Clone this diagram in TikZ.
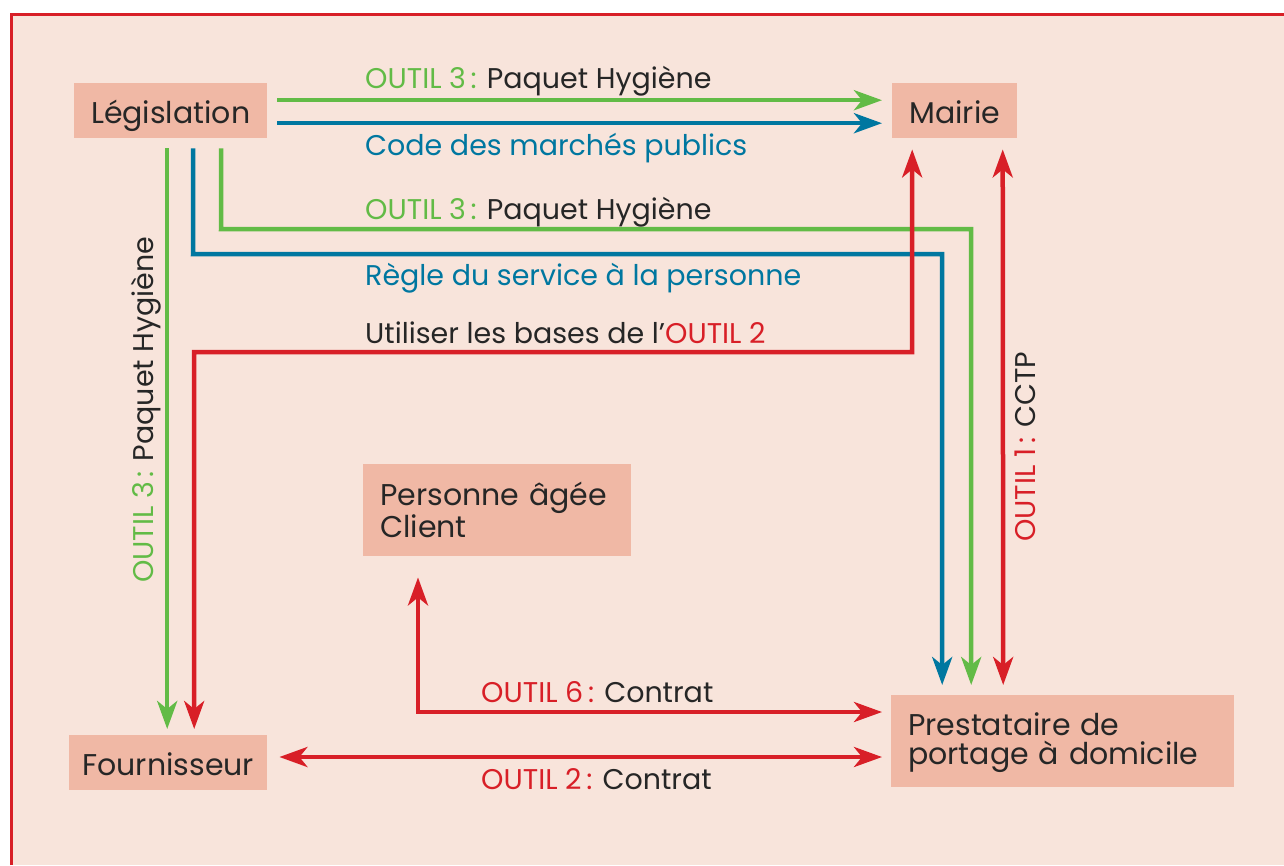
\documentclass[tikz,border=0pt]{standalone}
\usepackage{fontspec}
\setmainfont{Poppins}
\usetikzlibrary{arrows.meta}
\definecolor{bg}{HTML}{F8E4DB}
\definecolor{boxc}{HTML}{F0B8A5}
\definecolor{rd}{HTML}{D81F27}
\definecolor{gr}{HTML}{62BB46}
\definecolor{bl}{HTML}{0077A0}
\definecolor{tx}{HTML}{262626}
\newcommand\myfs{\fontsize{28.5}{29}\selectfont}
\newcommand\mynfs{\fontsize{30}{29.5}\selectfont}
\begin{document}
\begin{tikzpicture}[x=1pt,y=-1pt,
  box/.style={fill=boxc,inner sep=0pt,text=tx,font=\mynfs,anchor=north west},
  lbl/.style={inner sep=0pt,text=tx,font=\myfs,anchor=base west},
  con/.style={line width=4.5pt,line join=miter,-{Stealth[length=28pt,width=20pt,inset=8pt]}},
  dcon/.style={line width=4.5pt,line join=miter,{Stealth[length=28pt,width=20pt,inset=8pt]}-{Stealth[length=28pt,width=20pt,inset=8pt]}}]
\useasboundingbox (0,0) rectangle (1284,865);
\fill[white] (0,0) rectangle (1284,865);
\fill[bg] (11,14) rectangle (1284,865);
\draw[rd,line width=3pt] (11,865) -- (11,14) -- (1284,14);

% nodes
\node[box,minimum width=193pt,text height=40pt,text depth=15pt] (leg) at (74,83) {Législation};
\node[box,minimum width=125pt,text height=40pt,text depth=15pt] (mai) at (892,83) {Mairie};
\node[box,minimum width=268pt,text width=234pt,align=left,text height=41pt,text depth=51pt] (per) at (363,464) {Personne âgée\\Client};
\node[box,minimum width=198pt,text height=40pt,text depth=15pt] (fou) at (69,735) {Fournisseur};
\node[box,minimum width=343pt,text width=309pt,align=left,text height=40pt,text depth=52pt] (pre) at (891,695) {Prestataire de\\portage à domicile};

% coordinates for bends
\coordinate (g1) at (221,229); \coordinate (g2) at (971,229);
\coordinate (b1) at (193,254); \coordinate (b2) at (942,254);
\coordinate (r1) at (194,352); \coordinate (r2) at (912,352);
\coordinate (p1) at (418,712);

% Législation -> Mairie
\draw[con,gr] ([xshift=10pt,yshift=10.5pt]leg.east) -- ([xshift=-10pt,yshift=10.5pt]mai.west);
\draw[con,bl] ([xshift=10pt,yshift=-12.5pt]leg.east) -- ([xshift=-10pt,yshift=-12.5pt]mai.west);
% Législation -> Fournisseur
\draw[con,gr] ([xshift=-3.5pt,yshift=-10pt]leg.south) -- ([xshift=-1pt,yshift=6pt]fou.north);
% Législation -> Prestataire
\draw[con,gr] ([xshift=50.5pt,yshift=-10pt]leg.south) -- (g1) -- (g2) -- ([xshift=-91.5pt,yshift=10pt]pre.north);
\draw[con,bl] ([xshift=22.5pt,yshift=-10pt]leg.south) -- (b1) -- (b2) -- ([xshift=-120.5pt,yshift=10pt]pre.north);
% Fournisseur <-> Mairie
\draw[dcon,rd] ([xshift=26pt,yshift=6pt]fou.north) -- (r1) -- (r2) -- ([xshift=-42.5pt,yshift=-11pt]mai.south);
% Mairie <-> Prestataire
\draw[dcon,rd] ([xshift=48pt,yshift=-11pt]mai.south) -- ([xshift=-59.5pt,yshift=10pt]pre.north);
% Personne <-> Prestataire
\draw[dcon,rd] ([xshift=55pt,yshift=-21pt]per.south west) -- (p1) -- ([xshift=-9pt,yshift=-17pt]pre.north west);
% Fournisseur <-> Prestataire
\draw[dcon,rd] ([xshift=12pt,yshift=-22pt]fou.north east) -- ([xshift=-9pt,yshift=-62pt]pre.north west);

% labels
\node[lbl] (t1) at (365,88) {\textcolor{gr}{OUTIL 3\,:} Paquet Hygiène};
\node[lbl,text=bl] (t2) at (365,155) {Code des marchés publics};
\node[lbl] (t3) at (365,219) {\textcolor{gr}{OUTIL 3\,:} Paquet Hygiène};
\node[lbl,text=bl] (t4) at (365,285) {Règle du service à la personne};
\node[lbl] (t5) at (365,343) {Utiliser les bases de l’\textcolor{rd}{OUTIL 2}};
\node[lbl] (t6) at (481,702) {\textcolor{rd}{OUTIL 6\,:} Contrat};
\node[lbl] (t7) at (481,789) {\textcolor{rd}{OUTIL 2\,:} Contrat};
\node[lbl,rotate=90] (t8) at (153,583) {\textcolor{gr}{OUTIL 3\,:} Paquet Hygiène};
\node[lbl,rotate=90] (t9) at (1035,542) {\textcolor{rd}{OUTIL 1\,:} CCTP};
\end{tikzpicture}
\end{document}
